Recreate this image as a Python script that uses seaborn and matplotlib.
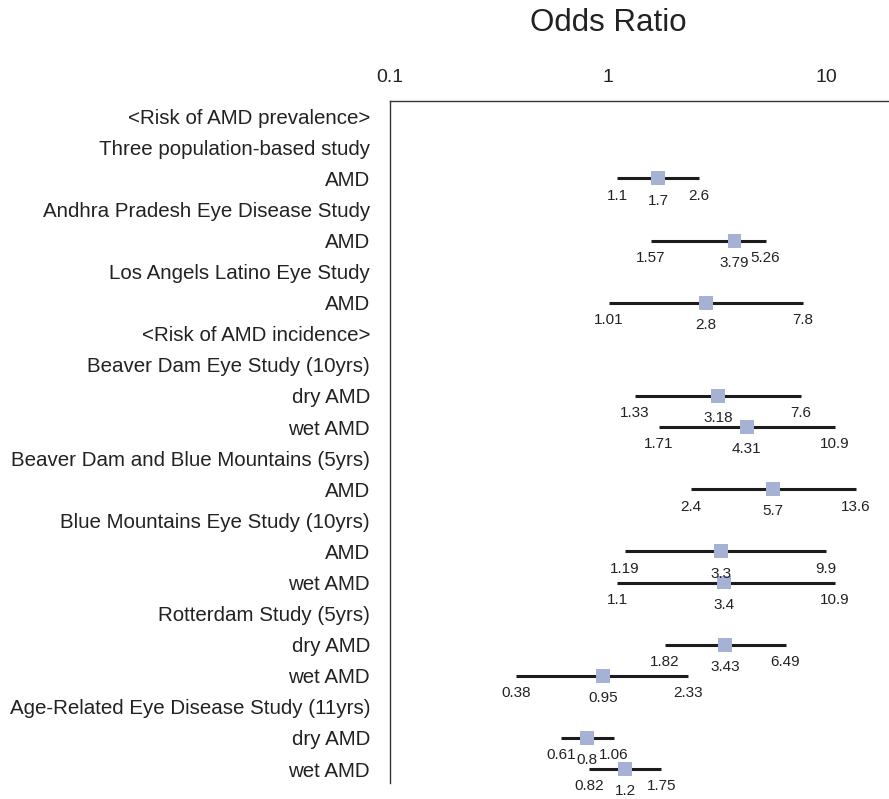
"""Forest plot: odds ratios for AMD prevalence and incidence"""
import matplotlib
matplotlib.use("Agg")
import matplotlib.pyplot as plt
import seaborn as sns

# row labels, top to bottom
row_labels = [
    "<Risk of AMD prevalence>",
    "Three population-based study",
    "AMD",
    "Andhra Pradesh Eye Disease Study",
    "AMD",
    "Los Angels Latino Eye Study",
    "AMD",
    "<Risk of AMD incidence>",
    "Beaver Dam Eye Study (10yrs)",
    "dry AMD",
    "wet AMD",
    "Beaver Dam and Blue Mountains (5yrs)",
    "AMD",
    "Blue Mountains Eye Study (10yrs)",
    "AMD",
    "wet AMD",
    "Rotterdam Study (5yrs)",
    "dry AMD",
    "wet AMD",
    "Age-Related Eye Disease Study (11yrs)",
    "dry AMD",
    "wet AMD",
]

# rows that carry an estimate, and the estimates themselves
est_rows = [2, 4, 6, 9, 10, 12, 14, 15, 17, 18, 20, 21]
odds_ratio = [1.7, 3.79, 2.8, 3.18, 4.31, 5.7, 3.3, 3.4, 3.43, 0.95, 0.8, 1.2]
ci_low = [1.1, 1.57, 1.01, 1.33, 1.71, 2.4, 1.19, 1.1, 1.82, 0.38, 0.61, 0.82]
ci_high = [2.6, 5.26, 7.8, 7.6, 10.9, 13.6, 9.9, 10.9, 6.49, 2.33, 1.06, 1.75]

x_ticks = [0.1, 1, 10]
x_tick_labels = ["0.1", "1", "10"]

sns.set_style("white")
plt.rcParams["font.family"] = ["Liberation Sans", "DejaVu Sans"]

fig = plt.figure(figsize=(8.89, 7.99), dpi=100)
ax = fig.add_axes([389.5 / 889, 1 - 783 / 799, 1 - 389.5 / 889, (783 - 101) / 799])

line_col = "#1c1c1c"
box_col = "#a5b2d4"
txt_col = "#222222"

# confidence intervals
ax.hlines(est_rows, ci_low, ci_high, color=line_col, linewidth=2.2, zorder=2)

# point estimates
sns.scatterplot(x=odds_ratio, y=est_rows, marker="s", s=100, color=box_col,
                edgecolor="none", linewidth=0, ax=ax, zorder=3, legend=False)

# numbers under each bar
for r, o, lo, hi in zip(est_rows, odds_ratio, ci_low, ci_high):
    ax.annotate(str(lo), (lo, r), xytext=(0, -12.5), textcoords="offset points",
                ha="center", va="center", fontsize=11, color=txt_col)
    ax.annotate(str(hi), (hi, r), xytext=(0, -12.5), textcoords="offset points",
                ha="center", va="center", fontsize=11, color=txt_col)
    ax.annotate(str(o), (o, r), xytext=(0, -16), textcoords="offset points",
                ha="center", va="center", fontsize=11, color=txt_col)

ax.set_xscale("log")
ax.set_xlim(0.1, 19.3)
ax.set_ylim(21.45, -0.49)

ax.xaxis.tick_top()
ax.set_xticks(x_ticks)
ax.set_xticklabels(x_tick_labels, fontsize=14, color=txt_col)
ax.minorticks_off()
ax.tick_params(axis="x", length=0, pad=11)

ax.set_yticks(range(len(row_labels)))
ax.set_yticklabels(row_labels, fontsize=14.8, color=txt_col)
ax.tick_params(axis="y", length=0, pad=14)

for side in ["right", "bottom"]:
    ax.spines[side].set_visible(False)
for side in ["top", "left"]:
    ax.spines[side].set_color("#333333")
    ax.spines[side].set_linewidth(1.0)

ax.grid(False)

fig.text(608 / 889, 1 - 23 / 799, "Odds Ratio", ha="center", va="center",
         fontsize=22.5, color=txt_col)

fig.savefig("out.png", dpi=100)
